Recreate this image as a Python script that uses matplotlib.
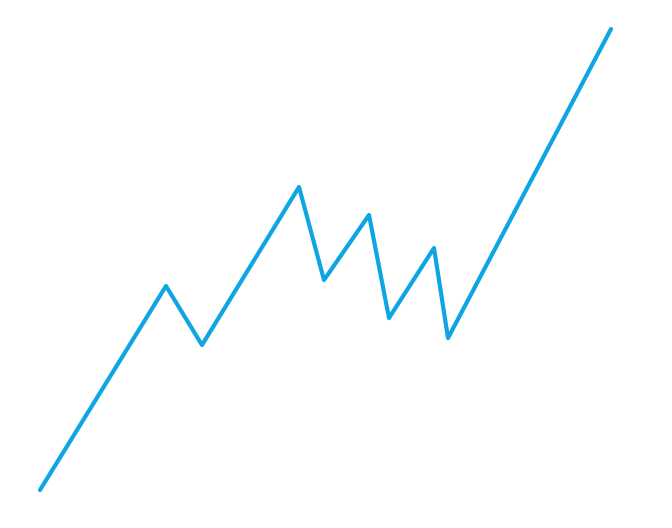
import matplotlib
matplotlib.use("Agg")
import matplotlib.pyplot as plt

x_values = [40, 166, 202, 299, 324, 369, 389, 434, 448, 611]
y_values = [38, 242, 183, 341, 248, 313, 210, 280, 190, 499]

fig = plt.figure(figsize=(6.72, 5.28), dpi=100)
ax = fig.add_axes([0, 0, 1, 1])
ax.plot(x_values, y_values, color="#0ea5e3", linewidth=3.0,
        solid_capstyle="round", solid_joinstyle="round")
ax.set_xlim(0, 672)
ax.set_ylim(0, 528)
ax.axis("off")
fig.savefig("out.png", dpi=100, facecolor="white")
